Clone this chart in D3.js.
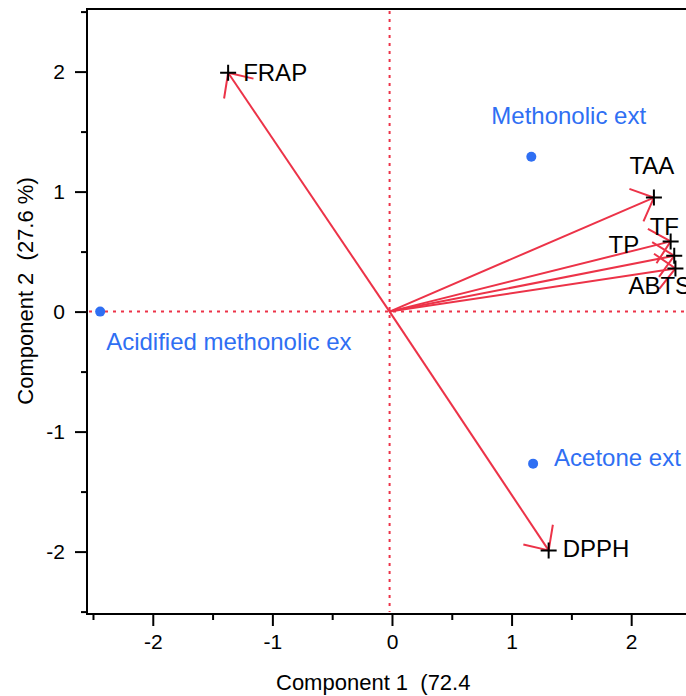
<!DOCTYPE html>
<html>
<head>
<meta charset="utf-8">
<script src="https://cdn.jsdelivr.net/npm/d3@7"></script>
<style>
  body { margin: 0; background: #fff; }
  svg { display: block; font-family: "Liberation Sans", Arial, sans-serif; }
  text { white-space: pre; }
</style>
</head>
<body>
<div id="chart"></div>
<script>
const width = 686;
const height = 696;

// loadings (arrows)
const varNames = ["FRAP", "DPPH", "TAA", "TF", "TP", "ABTS"];
const varPC1 = [-1.37, 1.31, 2.19, 2.33, 2.36, 2.37];
const varPC2 = [1.99, -1.99, 0.95, 0.585, 0.465, 0.36];

// scores (points)
const obsNames = ["Methonolic ext", "Acidified methonolic ex", "Acetone ext"];
const obsPC1 = [1.165, -2.44, 1.18];
const obsPC2 = [1.29, 0.0, -1.267];

const majorTicks = [-2, -1, 0, 1, 2];
const minorTicks = [-2.5, -1.5, -0.5, 0.5, 1.5, 2.5];

const xTitle = "Component 1  (72.4";
const yTitle = "Component 2  (27.6 %)";

// where the reference lines cross (slightly left of 0)
const originX = -0.02;

// label nudges in px, relative to the marker
const varNudge = {
    FRAP: [15, 0, "start"],
    DPPH: [14, -2, "start"],
    TAA: [-2, -32, "middle"],
    TF: [-21, -15, "start"],
    TP: [-35, -11, "end"],
    ABTS: [-47, 17, "start"]
};
const obsNudge = [[-40, -41], [6, 30], [21, -6]];

const red = "#ec3348";
const blue = "#2f6ff3";

const plotLeft = 87, plotTop = 9, plotBottom = 614;

let x = d3.scaleLinear().domain([-2.55, 2.5]).range([plotLeft, plotLeft + 5.05 * 119.6]);
let y = d3.scaleLinear().domain([-2.52, 2.52]).range([plotBottom, plotBottom - 5.04 * 120]);

let svg = d3.select("#chart").append("svg")
    .attr("width", width)
    .attr("height", height);

// axes
function styleAxis(g) {
    g.select(".domain").remove();
    g.selectAll(".tick line").attr("stroke", "#000").attr("stroke-width", 2);
    g.selectAll(".tick text").attr("fill", "#000").style("font-size", "21px");
}

svg.append("g")
    .attr("transform", `translate(0,${plotBottom})`)
    .call(d3.axisBottom(x).tickValues(minorTicks).tickSize(6).tickFormat(""))
    .call(styleAxis);
svg.append("g")
    .attr("transform", `translate(0,${plotBottom})`)
    .call(d3.axisBottom(x).tickValues(majorTicks).tickSize(12).tickPadding(8).tickFormat(d => String(d)))
    .call(styleAxis);

svg.append("g")
    .attr("transform", `translate(${plotLeft},0)`)
    .call(d3.axisLeft(y).tickValues(minorTicks).tickSize(6).tickFormat(""))
    .call(styleAxis);
svg.append("g")
    .attr("transform", `translate(${plotLeft},0)`)
    .call(d3.axisLeft(y).tickValues(majorTicks).tickSize(12).tickPadding(10).tickFormat(d => String(d)))
    .call(styleAxis);

// frame (right side runs off the page)
let frame = svg.append("g").attr("stroke", "#000").attr("stroke-width", 2).attr("fill", "none");
frame.append("path")
    .attr("d", `M${width + 10},${plotTop}H${plotLeft}V${plotBottom}H${width + 10}`);

// dotted reference lines
let ref = svg.append("g")
    .attr("stroke", red)
    .attr("stroke-width", 2)
    .attr("stroke-dasharray", "3,5");
ref.append("line")
    .attr("x1", plotLeft + 2).attr("x2", width)
    .attr("y1", y(0)).attr("y2", y(0));
ref.append("line")
    .attr("x1", x(originX)).attr("x2", x(originX))
    .attr("y1", plotTop + 2).attr("y2", plotBottom - 2);

// arrows
const headLen = 26;
const headAngle = 43 * Math.PI / 180;

let arrows = svg.append("g")
    .attr("stroke", red)
    .attr("stroke-width", 2)
    .attr("fill", "none");

varNames.forEach((name, i) => {
    let x0 = x(originX), y0 = y(0);
    let x1 = x(varPC1[i]), y1 = y(varPC2[i]);
    let a = Math.atan2(y0 - y1, x0 - x1);
    arrows.append("line")
        .attr("x1", x0).attr("y1", y0)
        .attr("x2", x1).attr("y2", y1);
    arrows.append("path")
        .attr("d", `M${x1 + headLen * Math.cos(a + headAngle)},${y1 + headLen * Math.sin(a + headAngle)}` +
            `L${x1},${y1}` +
            `L${x1 + headLen * Math.cos(a - headAngle)},${y1 + headLen * Math.sin(a - headAngle)}`);
});

// plus markers + labels
let vars = svg.append("g");
varNames.forEach((name, i) => {
    let cx = x(varPC1[i]), cy = y(varPC2[i]);
    vars.append("path")
        .attr("d", `M${cx - 8},${cy}H${cx + 8}M${cx},${cy - 8}V${cy + 8}`)
        .attr("stroke", "#000")
        .attr("stroke-width", 2);
    let n = varNudge[name];
    vars.append("text")
        .attr("x", cx + n[0])
        .attr("y", cy + n[1])
        .attr("text-anchor", n[2])
        .attr("dominant-baseline", "central")
        .style("font-size", "24px")
        .attr("fill", "#000")
        .text(name);
});

// score points
let obs = svg.append("g");
obsNames.forEach((name, i) => {
    let cx = x(obsPC1[i]), cy = y(obsPC2[i]);
    obs.append("circle")
        .attr("cx", cx).attr("cy", cy)
        .attr("r", 5)
        .attr("fill", blue);
    obs.append("text")
        .attr("x", cx + obsNudge[i][0])
        .attr("y", cy + obsNudge[i][1])
        .attr("dominant-baseline", "central")
        .style("font-size", "24px")
        .attr("fill", blue)
        .text(name);
});

// axis titles
svg.append("text")
    .attr("x", 276)
    .attr("y", 690)
    .style("font-size", "22px")
    .attr("fill", "#000")
    .text(xTitle);

svg.append("text")
    .attr("transform", "translate(25,291) rotate(-90)")
    .attr("text-anchor", "middle")
    .attr("dominant-baseline", "central")
    .style("font-size", "22px")
    .attr("fill", "#000")
    .text(yTitle);
</script>
</body>
</html>
